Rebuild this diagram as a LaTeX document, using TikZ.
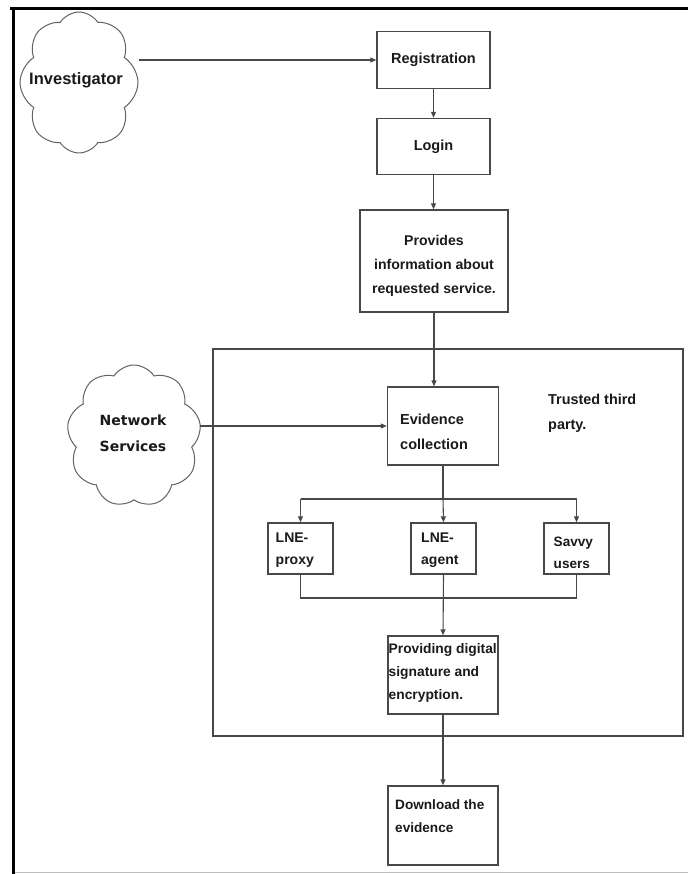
\documentclass[tikz,border=0pt]{standalone}
\usepackage{fontspec}
\setmainfont{Liberation Sans}
\newfontfamily\dvs{DejaVu Sans}
\usetikzlibrary{shapes.symbols,arrows.meta}
\definecolor{ln}{HTML}{484848}
\definecolor{tx}{HTML}{1A1A1A}
\tikzset{
  boxnode/.style={draw=ln, line width=1.4pt, rectangle, inner sep=0pt, text=tx, align=center},
  txt/.style={inner sep=0pt, text=tx},
  arr/.style={draw=ln, line width=1.1pt, -{Triangle[length=6pt,width=5pt]}},
  con/.style={draw=ln, line width=1.1pt},
  cloudnode/.style={cloud, draw=ln!85, line width=1pt, inner sep=0pt, text=tx, aspect=1}
}
\begin{document}
\begin{tikzpicture}[x=1pt,y=-1pt]
\useasboundingbox (0,0) rectangle (688,874);
\fill[white] (0,0) rectangle (688,874);
% frame
\draw[line width=3pt,black] (10,8.5) -- (688,8.5);
\draw[line width=3pt,black] (13,7) -- (13,874);
\draw[black!25, line width=1pt] (15,872.5) -- (688,872.5);

% trusted third party container
\node[draw=ln, line width=1.4pt, rectangle, minimum width=470pt, minimum height=387pt, inner sep=0pt] (ttp) at (448,542.5) {};
\node[txt, anchor=west, align=left, font=\bfseries\fontsize{14.4}{25}\selectfont] (ttptext) at (548,413) {Trusted third\\party.};

% boxes
\node[boxnode, minimum width=113pt, minimum height=57pt, font=\bfseries\fontsize{14.5}{24}\selectfont] (reg) at (433.5,60) {Registration};
\node[boxnode, minimum width=113pt, minimum height=56pt, font=\bfseries\fontsize{14.5}{24}\selectfont] (login) at (433.5,146.5) {Login};
\node[boxnode, minimum width=148pt, minimum height=102pt] (prov) at (434,261) {};
\node[txt, align=center, font=\bfseries\fontsize{14.1}{24}\selectfont] (provtext) at (434,266) {Provides\\information about\\requested service.};

\node[boxnode, minimum width=111pt, minimum height=78pt] (evid) at (443,426) {};
\node[txt, anchor=west, align=left, font=\bfseries\fontsize{14.5}{25}\selectfont] (evidtext) at (400,432) {Evidence\\collection};

\node[boxnode, minimum width=65pt, minimum height=51pt] (p1) at (300.5,548.5) {};
\node[txt, anchor=west, align=left, font=\bfseries\fontsize{14}{22}\selectfont] (p1text) at (275.5,550) {LNE-\\proxy};
\node[boxnode, minimum width=65pt, minimum height=51pt] (p2) at (443.5,548.5) {};
\node[txt, anchor=west, align=left, font=\bfseries\fontsize{14}{22}\selectfont] (p2text) at (421,550) {LNE-\\agent};
\node[boxnode, minimum width=65pt, minimum height=51pt] (p3) at (576.5,548.5) {};
\node[txt, anchor=west, align=left, font=\bfseries\fontsize{13.6}{22}\selectfont] (p3text) at (553.5,553) {Savvy\\users};

\node[boxnode, minimum width=110pt, minimum height=78pt] (sig) at (443,675) {};
\node[txt, anchor=west, align=left, font=\bfseries\fontsize{13.8}{23}\selectfont] (sigtext) at (388.5,673) {Providing digital\\signature and\\encryption.};

\node[boxnode, minimum width=110pt, minimum height=79pt] (dl) at (443,825.5) {};
\node[txt, anchor=west, align=left, font=\bfseries\fontsize{13.6}{23}\selectfont] (dltext) at (395,816) {Download the\\evidence};

% clouds
\node[cloudnode, cloud puffs=8, cloud puff arc=115, minimum width=118pt, minimum height=141pt] (inv) at (79,82.5) {};
\node[txt, font=\bfseries\fontsize{16.5}{20}\selectfont] (invtext) at (76,80) {Investigator};
\node[cloudnode, cloud puffs=9, cloud puff arc=115, minimum width=134pt, minimum height=142pt] (net) at (134,436) {};
\node[txt, align=center, font=\dvs\bfseries\fontsize{14}{26}\selectfont] (nettext) at (133,433) {Network\\Services};

% connectors
\draw[arr] (inv.east |- reg.west) -- (reg.west);
\draw[arr] (reg.south) -- (login.north);
\draw[arr] (login.south) -- (login.south |- prov.north);
\draw[arr] (prov.south) -- (prov.south |- evid.north);
\draw[arr] (net.east |- evid.west) -- (evid.west);

\coordinate (bry) at (0,499);
\coordinate (mgy) at (0,598);
\draw[con] (evid.south) -- (evid.south |- bry);
\draw[con] (p1.north |- bry) -- (p3.north |- bry);
\draw[arr] (p1.north |- bry) -- (p1.north);
\draw[arr] (evid.south |- bry) -- (p2.north);
\draw[arr] (p3.north |- bry) -- (p3.north);
\draw[con] (p1.south) -- (p1.south |- mgy) -- (p3.south |- mgy) -- (p3.south);
\draw[arr] (p2.south) -- (sig.north);
\draw[arr] (sig.south) -- (dl.north);
\end{tikzpicture}
\end{document}
